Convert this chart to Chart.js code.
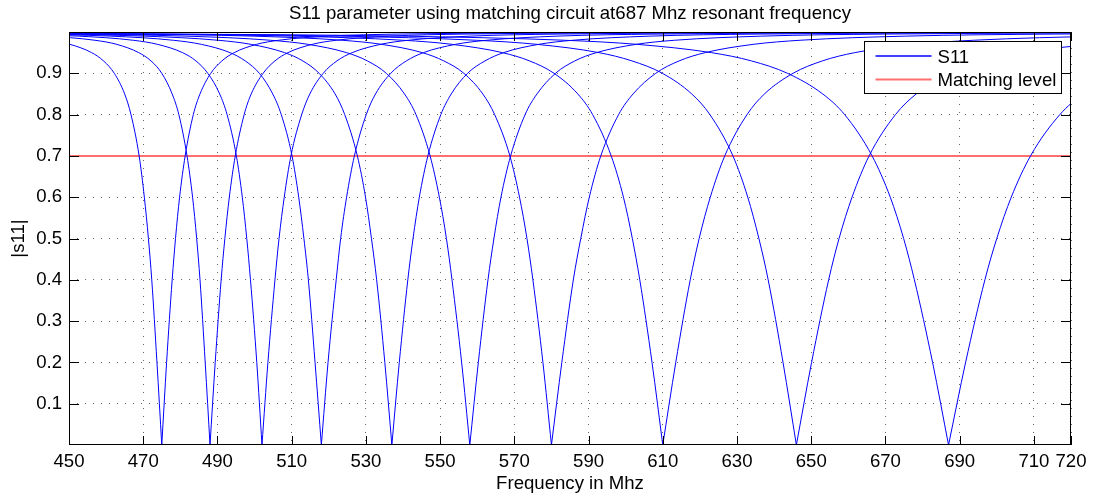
<!DOCTYPE html>
<html>
<head>
<meta charset="utf-8">
<title>S11 parameter</title>
<script src="https://cdn.jsdelivr.net/npm/chart.js@4.4.1/dist/chart.umd.min.js"></script>
<style>
  html, body { margin: 0; padding: 0; background: #fff; }
</style>
</head>
<body>
<canvas id="chart" width="1102" height="501"></canvas>
<script>
const chartTitle = 'S11 parameter using matching circuit at687 Mhz resonant frequency';
const xTitle = 'Frequency in Mhz';
const yTitle = '|s11|';
const legendLabels = ['S11', 'Matching level'];

const xTicks = [450, 470, 490, 510, 530, 550, 570, 590, 610, 630, 650, 670, 690, 710, 720];
const yTicks = [0.1, 0.2, 0.3, 0.4, 0.5, 0.6, 0.7, 0.8, 0.9];

// |s11| levels; each array below holds the frequency (MHz) where one branch of a dip crosses them
const levels = [0, 0.2, 0.4, 0.5, 0.6, 0.7, 0.8, 0.85, 0.9, 0.93, 0.95, 0.97, 0.98, 0.99, 0.995, 0.998, 0.9995, 0.9998];

const left475 = [475, 473.7, 472.3, 471.4, 470.3, 468.9, 466.7, 465.0, 462.2, 459.3, 456.1, 450.3, 444.5, 431.5, 413.2, 377.1, 279, 165];
const right475 = [475, 476.3, 477.8, 478.7, 479.8, 481.3, 483.5, 485.3, 488.2, 491.2, 494.5, 500.5, 506.5, 519.9, 538.8, 576.1, 677.3, 794.9];
const left488 = [488, 486.7, 485.3, 484.4, 483.3, 481.8, 479.6, 477.8, 475.0, 472.1, 468.8, 462.9, 457.0, 443.8, 425.2, 388.5, 288.9, 173.1];
const right488 = [488, 489.4, 491.0, 492.0, 493.2, 494.8, 497.2, 499.1, 502.3, 505.5, 509.0, 515.5, 522.0, 536.4, 556.7, 597.0, 706.1, 832.9];
const left502 = [502, 500.6, 498.9, 497.9, 496.7, 495.1, 492.6, 490.6, 487.4, 484.2, 480.6, 473.9, 467.3, 452.5, 431.8, 390.7, 279.2, 149.6];
const right502 = [502, 503.6, 505.5, 506.6, 508.0, 509.8, 512.7, 514.9, 518.5, 522.2, 526.3, 533.9, 541.4, 558.1, 581.7, 628.3, 754.9, 901.9];
const left518 = [518, 516.3, 514.5, 513.3, 511.9, 510.1, 507.2, 504.9, 501.3, 497.5, 493.4, 485.7, 478.1, 461.2, 437.3, 390.1, 262, 113.1];
const right518 = [518, 519.8, 522.0, 523.2, 524.8, 526.9, 530.1, 532.6, 536.7, 540.9, 545.5, 554.1, 562.6, 581.5, 608.2, 660.9, 804.1, 970.4];
const left537 = [537, 535.1, 532.9, 531.5, 529.9, 527.7, 524.3, 521.7, 517.4, 513.0, 508.1, 499.1, 490.2, 470.3, 442.4, 387, 236.7, 62.1];
const right537 = [537, 539.0, 541.3, 542.7, 544.4, 546.7, 550.2, 553.0, 557.4, 562.1, 567.1, 576.5, 585.8, 606.5, 635.6, 693.3, 849.9, 1031.9];
const left558 = [558, 555.8, 553.2, 551.7, 549.8, 547.3, 543.5, 540.4, 535.5, 530.4, 524.8, 514.5, 504.3, 481.5, 449.4, 385.9, 213.5, 13.1];
const right558 = [558, 560.3, 562.9, 564.5, 566.4, 569.0, 572.9, 576.1, 581.1, 586.3, 592.1, 602.7, 613.2, 636.6, 669.6, 734.8, 912, 1117.9];
const left580 = [580, 577.7, 575.0, 573.4, 571.4, 568.8, 564.7, 561.5, 556.4, 551.0, 545.2, 534.3, 523.6, 499.6, 465.9, 399.2, 218.1, 7.6];
const right580 = [580, 582.8, 585.9, 587.9, 590.2, 593.3, 598.1, 602.0, 608.1, 614.4, 621.4, 634.3, 647.0, 675.4, 715.5, 794.7, 1009.9, 1259.9];
const left610 = [610, 607.1, 603.8, 601.8, 599.4, 596.1, 591.1, 587.1, 580.7, 574.1, 566.8, 553.3, 540.1, 510.3, 468.5, 385.8, 161.1, -99.9];
const right610 = [610, 613.5, 617.4, 619.8, 622.8, 626.7, 632.7, 637.4, 645.1, 653.0, 661.7, 677.8, 693.7, 729.3, 779.4, 878.4, 1147, 1460];
const left646 = [646, 642.4, 638.4, 635.9, 632.9, 628.9, 622.7, 617.8, 609.9, 601.7, 592.8, 576.2, 559.8, 523.2, 471.7, 369.7, 92.8, -228.8];
const right646 = [646, 650.1, 654.7, 657.5, 661.0, 665.6, 672.7, 678.3, 687.3, 696.6, 706.9, 725.8, 744.5, 786.4, 845.2, 961.8, 1278, 1646];
const left687 = [687, 682.7, 677.8, 674.9, 671.3, 666.4, 659.0, 653.1, 643.6, 633.9, 623.1, 603.2, 583.6, 539.6, 477.8, 355.4, 23.2, -362.8];
const right687 = [687, 691.6, 696.8, 700.0, 703.9, 709.1, 717.0, 723.3, 733.5, 743.9, 755.5, 776.8, 797.8, 844.9, 911.1, 1042.3, 1398, 1812];

const matchFreq = [450, 720];
const matchLevel = [0.7, 0.7];

const blue = '#0000ff';
const red = '#ff6f6f';
const font = { family: "'Liberation Sans', Arial, Helvetica, sans-serif", size: 18.6 };

const branches = [
  [left475, right475], [left488, right488], [left502, right502], [left518, right518],
  [left537, right537], [left558, right558], [left580, right580], [left610, right610],
  [left646, right646], [left687, right687]
];

const datasets = [];
branches.forEach(([l, r]) => {
  const lp = l.map((f, i) => ({ x: f, y: levels[i] })).reverse();
  const rp = r.map((f, i) => ({ x: f, y: levels[i] }));
  [lp, rp].forEach(pts => datasets.push({
    label: legendLabels[0],
    data: pts,
    borderColor: blue,
    borderWidth: 1,
    cubicInterpolationMode: 'monotone',
    pointRadius: 0,
    fill: false
  }));
});
datasets.push({
  label: legendLabels[1],
  data: matchFreq.map((f, i) => ({ x: f, y: matchLevel[i] })),
  borderColor: red,
  borderWidth: 2,
  pointRadius: 0,
  fill: false
});

// MATLAB style frame with inward ticks, title and boxed legend
const matlabLook = {
  id: 'matlabLook',
  afterDatasetsDraw(chart) {
    const { ctx, chartArea: a, scales } = chart;
    ctx.save();
    ctx.strokeStyle = '#000';
    ctx.lineWidth = 1;
    ctx.strokeRect(Math.round(a.left) + 0.5, Math.round(a.top) + 0.5,
      Math.round(a.right - a.left) - 1, Math.round(a.bottom - a.top) - 1);
    ctx.beginPath();
    xTicks.forEach(v => {
      const px = Math.round(scales.x.getPixelForValue(v)) + 0.5;
      ctx.moveTo(px, a.bottom); ctx.lineTo(px, a.bottom - 9);
      ctx.moveTo(px, a.top); ctx.lineTo(px, a.top + 9);
    });
    yTicks.forEach(v => {
      const py = Math.round(scales.y.getPixelForValue(v)) + 0.5;
      ctx.moveTo(a.left, py); ctx.lineTo(a.left + 10, py);
      ctx.moveTo(a.right, py); ctx.lineTo(a.right - 10, py);
    });
    ctx.stroke();

    ctx.fillStyle = '#000';
    ctx.font = `${font.size}px ${font.family}`;
    ctx.textAlign = 'center';
    ctx.textBaseline = 'alphabetic';
    ctx.fillText(chartTitle, (a.left + a.right) / 2, 18.5);

    const bx = Math.round(a.right) - 206.5, by = Math.round(a.top) + 9.5, bw = 197, bh = 52;
    ctx.fillStyle = '#fff';
    ctx.fillRect(bx, by, bw, bh);
    ctx.strokeStyle = '#000';
    ctx.strokeRect(bx, by, bw, bh);
    const rows = [[legendLabels[0], blue, 1.5], [legendLabels[1], red, 2]];
    rows.forEach(([txt, col, w], i) => {
      const ly = by + 14.5 + i * 23.5;
      ctx.strokeStyle = col;
      ctx.lineWidth = w;
      ctx.beginPath();
      ctx.moveTo(bx + 11, ly); ctx.lineTo(bx + 67, ly);
      ctx.stroke();
      ctx.fillStyle = '#000';
      ctx.textAlign = 'left';
      ctx.fillText(txt, bx + 73, ly + 6.5);
    });
    ctx.restore();
  }
};

new Chart(document.getElementById('chart'), {
  type: 'line',
  data: { datasets },
  plugins: [matlabLook],
  options: {
    responsive: false,
    animation: false,
    layout: { padding: { top: 32, right: 31, left: 0, bottom: 0 } },
    plugins: {
      legend: { display: false },
      title: { display: false },
      tooltip: { enabled: false }
    },
    scales: {
      x: {
        type: 'linear',
        min: 450,
        max: 720,
        afterBuildTicks: s => { s.ticks = xTicks.map(v => ({ value: v })); },
        afterFit: s => { s.height = 56; },
        ticks: { autoSkip: false, maxRotation: 0, padding: 6, color: '#000', font, callback: v => String(v) },
        grid: { color: 'rgba(0,0,0,0.6)', drawTicks: false, lineWidth: 1 },
        border: { display: false, dash: [1, 7] },
        title: { display: true, text: xTitle, color: '#000', font, padding: { top: 0, bottom: 6 } }
      },
      y: {
        type: 'linear',
        min: 0,
        max: 1,
        afterBuildTicks: s => { s.ticks = yTicks.map(v => ({ value: v })); },
        afterFit: s => { s.width = 69; },
        ticks: { padding: 7, color: '#000', font, callback: v => String(v) },
        grid: { color: 'rgba(0,0,0,0.6)', drawTicks: false, lineWidth: 1 },
        border: { display: false, dash: [1, 7] },
        title: { display: true, text: yTitle, color: '#000', font, padding: { top: 8, bottom: 0 } }
      }
    }
  }
});
</script>
</body>
</html>
